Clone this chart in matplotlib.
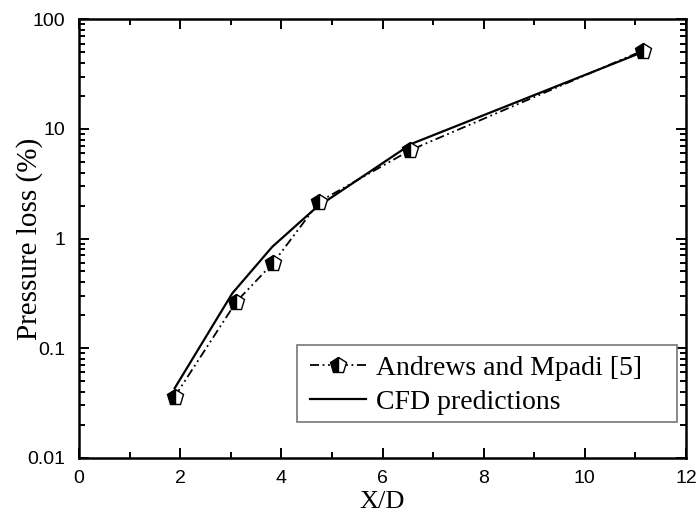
import matplotlib
matplotlib.use("Agg")
import matplotlib.pyplot as plt
from matplotlib.patches import Rectangle
from matplotlib.ticker import LogLocator, MultipleLocator, FixedLocator, FixedFormatter, NullFormatter

# Data
exp_x = [1.89, 3.11, 3.84, 4.75, 6.55, 11.14]
exp_y = [0.036, 0.265, 0.60, 2.17, 6.4, 51.7]
cfd_x = [1.89, 3.03, 3.82, 4.68, 6.57, 11.03]
cfd_y = [0.043, 0.316, 0.84, 1.9, 7.3, 47.9]
exp_label = "Andrews and Mpadi [5]"
cfd_label = "CFD predictions"
x_label = "X/D"
y_label = "Pressure loss (%)"
x_ticks = [0, 2, 4, 6, 8, 10, 12]
y_ticks = [0.01, 0.1, 1, 10, 100]
y_ticklabels = ["0.01", "0.1", "1", "10", "100"]

fig = plt.figure(figsize=(7.0, 5.19), dpi=100)
ax = fig.add_axes([0.1129, 0.1181, 0.8671, 0.8447])

ax.plot(exp_x, exp_y, color="black", lw=1.3, linestyle=(0, (5, 2, 1, 2, 1, 2)),
        marker="p", markersize=12, fillstyle="left", markerfacecolor="black",
        markerfacecoloralt="white", markeredgecolor="black", markeredgewidth=1.0,
        label=exp_label, zorder=3)
ax.plot(cfd_x, cfd_y, color="black", lw=1.6, linestyle="-", label=cfd_label, zorder=2)

ax.set_yscale("log")
ax.set_xlim(0, 12)
ax.set_ylim(0.01, 100)

ax.xaxis.set_major_locator(FixedLocator(x_ticks))
ax.xaxis.set_minor_locator(MultipleLocator(1))
ax.yaxis.set_major_locator(FixedLocator(y_ticks))
ax.yaxis.set_major_formatter(FixedFormatter(y_ticklabels))
ax.yaxis.set_minor_locator(LogLocator(base=10, subs=range(2, 10), numticks=20))
ax.yaxis.set_minor_formatter(NullFormatter())

for s in ax.spines.values():
    s.set_linewidth(1.8)

ax.tick_params(which="both", direction="in", top=True, right=True, width=1.4)
ax.tick_params(which="major", length=7, labelsize=14)
ax.tick_params(axis="x", which="major", pad=9)
ax.tick_params(axis="y", which="major", pad=10)
ax.tick_params(which="minor", length=4)
for lbl in ax.get_xticklabels() + ax.get_yticklabels():
    lbl.set_family("Liberation Sans")

ax.set_xlabel(x_label, family="Liberation Serif", fontsize=19, labelpad=3)
ax.set_ylabel(y_label, family="Liberation Serif", fontsize=21)
ax.yaxis.set_label_coords(-0.060, 0.5)

# legend box (larger than its content, as in the reference)
ax.add_patch(Rectangle((0.359, 0.0814), 0.626, 0.1756, transform=ax.transAxes,
                       facecolor="white", edgecolor="#777777", linewidth=1.2, zorder=4))
leg = ax.legend(loc="upper left", bbox_to_anchor=(0.3806, 0.233), borderaxespad=0,
                prop={"family": "Liberation Serif", "size": 20},
                frameon=False, handlelength=2.0, handletextpad=0.36,
                borderpad=0, labelspacing=0.3)
leg.set_zorder(5)

fig.savefig("out.png", dpi=100)
